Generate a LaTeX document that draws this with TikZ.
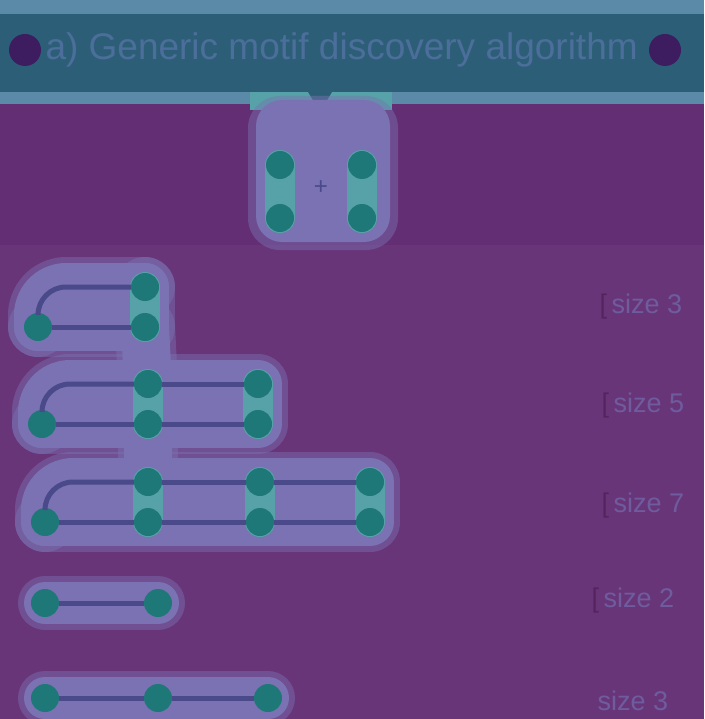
\documentclass[tikz,border=0pt]{standalone}
\usepackage{fontspec}
\setmainfont{Liberation Sans}
\usetikzlibrary{backgrounds}

\definecolor{bgtop}{HTML}{632E73}
\definecolor{bgbot}{HTML}{693579}
\definecolor{headband}{HTML}{2C5F77}
\definecolor{headglow}{HTML}{5A8AA8}
\definecolor{headtext}{HTML}{4C6E9A}
\definecolor{headdot}{HTML}{3D1D5F}
\definecolor{vertteal}{HTML}{1F7878}
\definecolor{edgeblue}{HTML}{4A4A8A}
\definecolor{glowlav}{HTML}{7A72B2}
\definecolor{glowteal}{HTML}{57A2A8}
\definecolor{labtext}{HTML}{6E5C9E}
\definecolor{labbrk}{HTML}{55245F}

\pgfdeclarelayer{glow}
\pgfsetlayers{background,glow,main}

\begin{document}
\begin{tikzpicture}[x=1pt, y=-1pt,
    vert/.style={circle, fill=vertteal, inner sep=0pt, minimum size=28pt},
    link/.style={draw=edgeblue, line width=5pt},
    halo/.style={draw=glowlav, line width=48pt, line cap=round, line join=round},
    softhalo/.style={draw=glowlav, draw opacity=0.45, line width=60pt, line cap=round, line join=round},
    tealhalo/.style={draw=glowteal, line width=30pt, line cap=round},
    steplabel/.style={anchor=west, text=labtext, font=\fontsize{27}{29}\selectfont}]
    \useasboundingbox (0,0) rectangle (704,719);

    % background and header
    \begin{scope}[on background layer]
        \fill[bgtop] (0,0) rectangle (704,245);
        \fill[bgbot] (0,245) rectangle (704,719);
        \fill[headglow] (0,0) rectangle (704,104);
        \fill[glowteal] (250,92) rectangle (392,110);
        \fill[headband] (0,14) rectangle (704,92);
        \fill[headband] (308,92) -- (332,92) -- (320,112) -- cycle;
    \end{scope}
    \fill[headdot] (25,50) circle (16);
    \fill[headdot] (665,50) circle (16);
    \node[anchor=west, text=headtext, font=\fontsize{37}{40}\selectfont] (title) at (42,50) {a) Generic motif discovery algorithm};

    % motif being searched for
    \node[vert] (t1) at (280,165) {};
    \node[vert] (t2) at (280,218) {};
    \node[vert] (t3) at (362,165) {};
    \node[vert] (t4) at (362,218) {};
    \node[text=edgeblue, font=\fontsize{24}{24}\selectfont] (tx) at (321,188) {+};

    % candidate subgraphs
    \node[vert] (r1a) at (38,327) {};
    \node[vert] (r1b) at (145,287) {};
    \node[vert] (r1c) at (145,327) {};
    \draw[link] (r1a) -- (r1c);
    \draw[link, rounded corners=28pt] (r1a) |- (r1b);

    \node[vert] (r2a) at (42,424) {};
    \node[vert] (r2b) at (148,384) {};
    \node[vert] (r2c) at (148,424) {};
    \node[vert] (r2d) at (258,384) {};
    \node[vert] (r2e) at (258,424) {};
    \draw[link] (r2a) -- (r2c) -- (r2e);
    \draw[link] (r2b) -- (r2d);
    \draw[link, rounded corners=28pt] (r2a) |- (r2b);

    \node[vert] (r3a) at (45,522) {};
    \node[vert] (r3b) at (148,482) {};
    \node[vert] (r3c) at (148,522) {};
    \node[vert] (r3d) at (260,482) {};
    \node[vert] (r3e) at (260,522) {};
    \node[vert] (r3f) at (370,482) {};
    \node[vert] (r3g) at (370,522) {};
    \draw[link] (r3a) -- (r3c) -- (r3e) -- (r3g);
    \draw[link] (r3b) -- (r3d) -- (r3f);
    \draw[link, rounded corners=28pt] (r3a) |- (r3b);

    \node[vert] (r4a) at (45,603) {};
    \node[vert] (r4b) at (158,603) {};
    \draw[link] (r4a) -- (r4b);

    \node[vert] (r5a) at (45,698) {};
    \node[vert] (r5b) at (158,698) {};
    \node[vert] (r5c) at (268,698) {};
    \draw[link] (r5a) -- (r5b) -- (r5c);

    % glow behind the graphs
    \begin{pgfonlayer}{glow}
        \fill[glowlav, opacity=0.45, rounded corners=32pt] (248,96) rectangle (398,250);
        \fill[glowlav, rounded corners=26pt] (256,100) rectangle (390,242);
        \draw[tealhalo] (t1.center) -- (t2.center);
        \draw[tealhalo] (t3.center) -- (t4.center);
        \foreach \s in {softhalo, halo} {
            \draw[\s] (r1a.center) -- (r1c.center) -- (r1b.center);
            \draw[\s, rounded corners=28pt] (r1a.center) |- (r1b.center);
            \draw[\s] (r1c.center) -- (r2b.center);
            \draw[\s] (r2a.center) -- (r2e.center) -- (r2d.center) -- (r2b.center);
            \draw[\s, rounded corners=28pt] (r2a.center) |- (r2b.center);
            \draw[\s] (r2c.center) -- (r3b.center);
            \draw[\s] (r3a.center) -- (r3g.center) -- (r3f.center) -- (r3b.center);
            \draw[\s, rounded corners=28pt] (r3a.center) |- (r3b.center);
        }
        \draw[softhalo, line width=54pt] (r4a.center) -- (r4b.center);
        \draw[halo, line width=42pt] (r4a.center) -- (r4b.center);
        \draw[softhalo, line width=54pt] (r5a.center) -- (r5c.center);
        \draw[halo, line width=42pt] (r5a.center) -- (r5c.center);
        \foreach \p/\q in {r1b/r1c, r2b/r2c, r2d/r2e, r3b/r3c, r3d/r3e, r3f/r3g}
            \draw[tealhalo] (\p.center) -- (\q.center);
    \end{pgfonlayer}

    % step labels on the right
    \node[steplabel] (l1) at (596,307) {\textcolor{labbrk}{[}\,size 3};
    \node[steplabel] (l2) at (598,406) {\textcolor{labbrk}{[}\,size 5};
    \node[steplabel] (l3) at (598,506) {\textcolor{labbrk}{[}\,size 7};
    \node[steplabel] (l4) at (588,601) {\textcolor{labbrk}{[}\,size 2};
    \node[steplabel] (l5) at (594,701) {size 3};
\end{tikzpicture}
\end{document}
